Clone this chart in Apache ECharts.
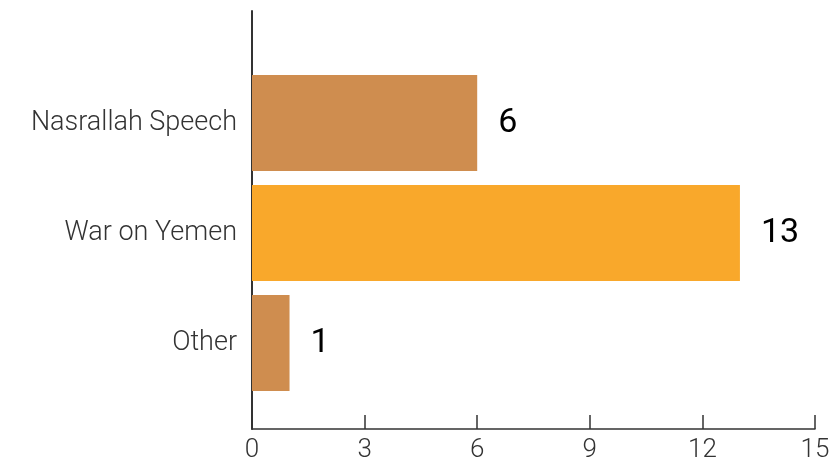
<!DOCTYPE html>
<html>
<head>
<meta charset="utf-8">
<script src="https://cdn.jsdelivr.net/npm/echarts@6/dist/echarts.min.js"></script>
<style>
  html, body { margin: 0; padding: 0; background: #ffffff; }
  #chart { width: 833px; height: 463px; }
</style>
</head>
<body>
<div id="chart"></div>
<script>
// Topics and counts
const categories = ['Nasrallah Speech', 'War on Yemen', 'Other'];
const counts = [6, 13, 1];
const barColors = ['#CF8D4F', '#F9A82B', '#CF8D4F'];
const xTicks = { min: 0, max: 15, interval: 3 };

const chart = echarts.init(document.getElementById('chart'), null, { renderer: 'canvas' });

const fontFamily = 'Roboto, "Noto Sans", sans-serif';

chart.setOption({
  animation: false,
  backgroundColor: '#ffffff',
  grid: [
    // frame grid: carries the axis lines and the value ticks
    { left: 252, right: 18, top: 11, bottom: 29 },
    // bar grid
    { left: 252, right: 18, top: 68, height: 330 }
  ],
  xAxis: [
    {
      gridIndex: 0,
      type: 'value',
      min: xTicks.min,
      max: xTicks.max,
      interval: xTicks.interval,
      axisLine: { show: true, lineStyle: { color: '#333333', width: 1.5 } },
      axisTick: { show: true, inside: true, length: 14, lineStyle: { color: '#333333', width: 1.5 } },
      axisLabel: { color: '#333333', fontSize: 26, fontFamily: fontFamily, fontWeight: 300, margin: 8 },
      splitLine: { show: false }
    },
    {
      gridIndex: 1,
      type: 'value',
      min: xTicks.min,
      max: xTicks.max,
      show: false
    }
  ],
  yAxis: [
    {
      gridIndex: 0,
      type: 'value',
      min: 0,
      max: 1,
      axisLine: { show: true, lineStyle: { color: '#333333', width: 2 } },
      axisTick: { show: false },
      axisLabel: { show: false },
      splitLine: { show: false }
    },
    {
      gridIndex: 1,
      type: 'category',
      inverse: true,
      data: categories,
      axisLine: { show: false },
      axisTick: { show: false },
      axisLabel: { color: '#333333', fontSize: 27, fontFamily: fontFamily, fontWeight: 300, margin: 15, padding: [0, 0, 3, 0] },
      splitLine: { show: false }
    }
  ],
  series: [
    {
      type: 'bar',
      xAxisIndex: 1,
      yAxisIndex: 1,
      barCategoryGap: '12.7%',
      data: counts.map((v, i) => ({ value: v, itemStyle: { color: barColors[i] } })),
      label: {
        show: true,
        position: 'right',
        distance: 21,
        color: '#000000',
        fontSize: 34,
        fontFamily: fontFamily,
        fontWeight: 400
      }
    }
  ]
});
</script>
</body>
</html>
